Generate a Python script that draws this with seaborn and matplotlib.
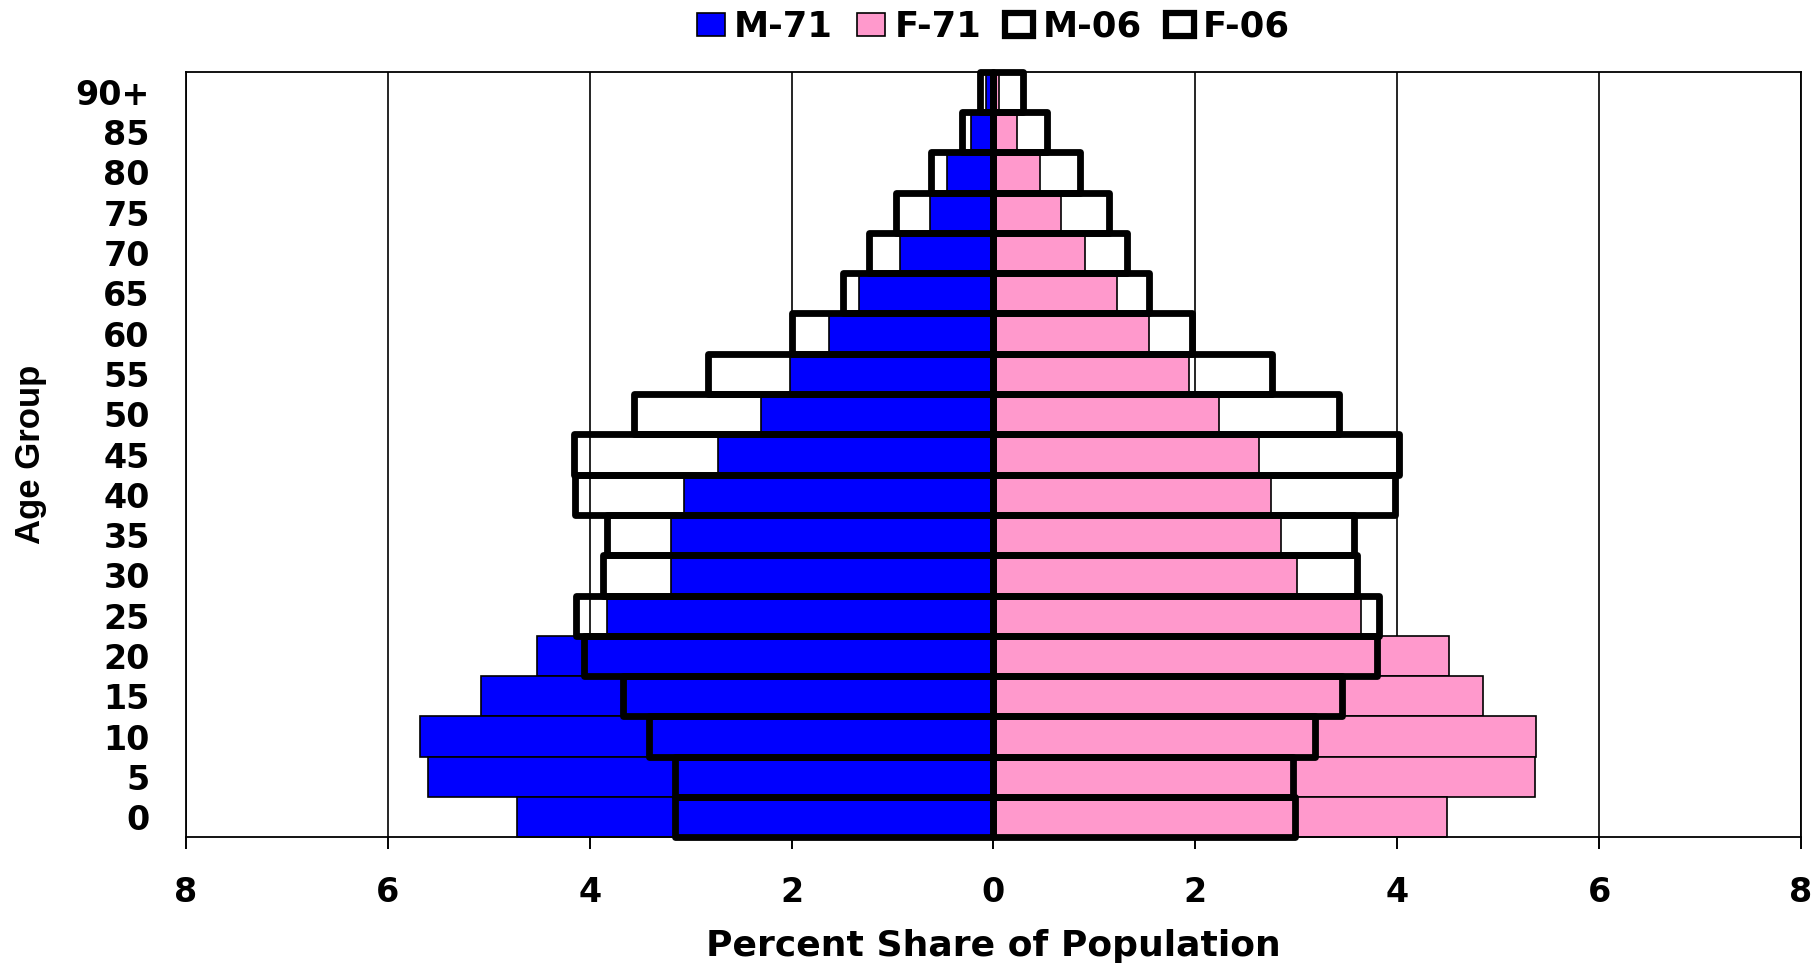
import pandas as pd
import numpy as np
import matplotlib
matplotlib.use("Agg")
import matplotlib.pyplot as plt
from matplotlib.patches import Patch
import seaborn as sns

# Age groups, youngest first
ages = ['0', '5', '10', '15', '20', '25', '30', '35', '40', '45',
        '50', '55', '60', '65', '70', '75', '80', '85', '90+']

# Percent share of population
m71 = [4.72, 5.60, 5.68, 5.08, 4.52, 3.83, 3.19, 3.19, 3.07, 2.73,
       2.30, 2.02, 1.63, 1.33, 0.93, 0.63, 0.46, 0.22, 0.07]
f71 = [4.49, 5.37, 5.38, 4.85, 4.51, 3.64, 3.01, 2.85, 2.75, 2.63,
       2.23, 1.94, 1.54, 1.22, 0.91, 0.67, 0.46, 0.23, 0.06]
m06 = [3.15, 3.15, 3.41, 3.67, 4.06, 4.14, 3.87, 3.83, 4.15, 4.16,
       3.56, 2.83, 2.00, 1.49, 1.23, 0.97, 0.62, 0.31, 0.13]
f06 = [2.99, 2.97, 3.19, 3.45, 3.80, 3.82, 3.60, 3.57, 3.98, 4.02,
       3.42, 2.76, 1.97, 1.54, 1.32, 1.14, 0.86, 0.53, 0.29]

series_names = ['M-71', 'F-71', 'M-06', 'F-06']
x_ticks = [-8, -6, -4, -2, 0, 2, 4, 6, 8]
x_tick_labels = ['8', '6', '4', '2', '0', '2', '4', '6', '8']

# males go to the left
pyramid = pd.DataFrame({
    'Age': ages * 4,
    'Share': [-v for v in m71] + f71 + [-v for v in m06] + f06,
    'Series': np.repeat(series_names, len(ages)),
})
order = ages[::-1]

sns.set_style('ticks')
plt.rcParams['font.family'] = ['DejaVu Sans']
plt.rcParams['font.weight'] = 'bold'
plt.rcParams['text.color'] = 'black'
plt.rcParams['axes.labelcolor'] = 'black'
plt.rcParams['xtick.color'] = 'black'
plt.rcParams['ytick.color'] = 'black'

fig, ax = plt.subplots(figsize=(18.14, 9.65), dpi=100)
fig.subplots_adjust(left=0.1025, right=0.9928, bottom=0.1323, top=0.9257)

# 1971 filled bars
sns.barplot(data=pyramid[pyramid['Series'] == 'M-71'], x='Share', y='Age', order=order,
            color='#0000FF', saturation=1, width=1.0, errorbar=None,
            edgecolor='black', linewidth=1.2, ax=ax)
sns.barplot(data=pyramid[pyramid['Series'] == 'F-71'], x='Share', y='Age', order=order,
            color='#FF99CC', saturation=1, width=1.0, errorbar=None,
            edgecolor='black', linewidth=1.2, ax=ax)
n_filled = len(ax.patches)

# 2006 outlines on top
sns.barplot(data=pyramid[pyramid['Series'] == 'M-06'], x='Share', y='Age', order=order,
            color='black', fill=False, width=1.0, errorbar=None, linewidth=4.9, ax=ax)
sns.barplot(data=pyramid[pyramid['Series'] == 'F-06'], x='Share', y='Age', order=order,
            color='black', fill=False, width=1.0, errorbar=None, linewidth=4.9, ax=ax)

for i, p in enumerate(ax.patches):
    p.set_clip_on(False)
    if i >= n_filled:
        p.set_joinstyle('round')
        p.set_facecolor('none')
        p.set_edgecolor('black')
        p.set_zorder(3)

ax.set_xlim(-8, 8)
ax.set_ylim(18.5, -0.5)
ax.set_xticks(x_ticks)
ax.set_xticklabels(x_tick_labels)
ax.grid(axis='x', color='black', linewidth=1.2)
ax.grid(axis='y', visible=False)
ax.set_axisbelow(True)

for s in ax.spines.values():
    s.set_visible(True)
    s.set_color('black')
    s.set_linewidth(1.3)

ax.tick_params(axis='x', which='major', bottom=True, top=False, direction='out',
               length=8.6, width=1.2, color='black', labelcolor='black', pad=19, labelsize=24)
ax.tick_params(axis='y', left=False, right=False, length=0, pad=26, labelsize=24,
               labelcolor='black')
# tick marks below the axis, drawn explicitly so they always show
ax.vlines(x_ticks, -0.0157, 0, transform=ax.get_xaxis_transform(), colors='black',
          linewidth=1.2, clip_on=False, zorder=4)
for lab in ax.get_xticklabels() + ax.get_yticklabels():
    lab.set_fontweight('bold')

ax.set_xlabel('Percent Share of Population', fontsize=26, fontweight='bold', color='black')
ax.xaxis.set_label_coords(0.5, -0.12)
ax.xaxis.label.set_verticalalignment('top')
ax.set_ylabel('Age Group', fontsize=25, fontweight='bold', color='black',
              family=['Liberation Sans', 'DejaVu Sans'])
ax.yaxis.set_label_coords(-0.086, 0.5)

handles = [
    Patch(facecolor='#0000FF', edgecolor='black', linewidth=1.2),
    Patch(facecolor='#FF99CC', edgecolor='black', linewidth=1.2),
    Patch(facecolor='white', edgecolor='black', linewidth=4.5, joinstyle='round'),
    Patch(facecolor='white', edgecolor='black', linewidth=4.5, joinstyle='round'),
]
leg = ax.legend(handles, series_names, loc='center', bbox_to_anchor=(0.5, 1.059),
                ncol=4, frameon=False, fontsize=25.5, handlelength=0.8, handleheight=0.62,
                handletextpad=0.25, columnspacing=0.68, borderaxespad=0)
for t in leg.get_texts():
    t.set_fontweight('bold')
    t.set_color('black')

fig.savefig('out.png', dpi=100)
